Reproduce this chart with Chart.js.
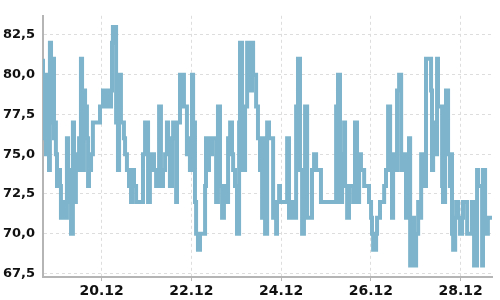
<!DOCTYPE html>
<html>
<head>
<meta charset="utf-8">
<script src="https://cdn.jsdelivr.net/npm/chart.js@4/dist/chart.umd.min.js"></script>
<style>
  body { margin: 0; background: #fff; }
  #wrap { width: 500px; height: 300px; }
</style>
</head>
<body>
<div id="wrap"><canvas id="tempChart" width="500" height="300"></canvas></div>
<script>
// hours since 18.12 00:00 where the reading changes
const hours = [
    16.6, 17.7, 18.2, 19.3, 19.8, 20.3, 20.9, 21.9, 22.5, 23.0, 23.5, 24.1, 24.6, 25.7, 26.2, 26.8, 27.3, 29.4, 30.0, 30.5,
    31.6, 32.6, 33.2, 34.2, 34.8, 35.9, 36.9, 37.5, 38.5, 39.1, 39.6, 40.1, 40.7, 41.2, 41.7, 42.3, 43.3, 44.4, 47.1, 48.7,
    49.8, 50.8, 51.9, 53.0, 53.5, 54.0, 55.7, 56.7, 57.3, 58.3, 59.9, 60.5, 61.5, 62.6, 63.7, 64.2, 65.3, 66.4, 70.1, 71.2,
    72.8, 73.8, 74.9, 76.0, 77.1, 78.7, 79.7, 80.8, 81.9, 82.9, 83.5, 84.5, 85.6, 86.2, 87.8, 88.3, 89.9, 92.0, 93.6, 94.7,
    95.2, 96.3, 96.9, 97.9, 98.5, 99.5, 100.6, 103.3, 103.8, 104.3, 105.4, 106.0, 107.0, 109.2, 110.2, 111.3, 112.4, 113.4, 114.5, 115.6,
    116.7, 117.7, 118.3, 119.3, 120.4, 121.5, 122.0, 123.1, 124.7, 125.8, 126.8, 128.4, 129.0, 130.6, 131.6, 132.7, 133.8, 134.3, 135.4, 136.5,
    137.5, 139.7, 140.7, 141.3, 141.8, 142.9, 143.4, 147.2, 148.2, 149.3, 150.9, 152.0, 153.0, 154.1, 155.2, 156.2, 156.8, 157.9, 160.5, 161.6,
    162.7, 165.3, 173.4, 174.4, 175.5, 176.6, 177.1, 177.7, 178.2, 179.3, 180.3, 182.5, 183.5, 184.6, 185.7, 186.7, 188.4, 191.0, 192.1, 192.6,
    193.2, 194.8, 195.3, 196.9, 199.1, 200.1, 201.2, 202.3, 203.3, 203.9, 204.9, 206.0, 207.1, 208.2, 209.8, 210.8, 211.4, 212.4, 213.0, 214.0,
    215.1, 216.2, 217.3, 218.3, 218.9, 219.4, 220.5, 221.5, 222.6, 224.2, 224.7, 225.3, 226.3, 227.4, 227.9, 230.1, 230.6, 231.7, 232.2, 233.3,
    234.3, 234.9, 235.4, 236.0, 237.1, 237.6, 238.7, 239.7, 240.8, 241.3, 243.5, 246.1, 247.2, 248.8, 249.4, 251.5, 252.0, 253.1, 254.1, 254.6,
    255.7, 256.8
];
const values = [
    81, 76, 80, 75, 78, 74, 82, 77, 81, 76, 77, 75, 73, 74, 73, 71, 72, 71, 76, 74,
    72, 70, 77, 72, 75, 74, 76, 81, 74, 79, 77, 78, 76, 73, 75, 74, 75, 77, 77, 78,
    79, 78, 79, 78, 79, 82, 83, 77, 74, 80, 77, 76, 75, 74, 73, 72, 74, 73, 72, 75,
    77, 72, 74, 75, 74, 73, 78, 73, 74, 75, 77, 76, 73, 76, 77, 72, 77, 80, 78, 75,
    76, 74, 80, 77, 72, 70, 69, 70, 73, 76, 74, 76, 75, 76, 72, 78, 73, 71, 73, 72,
    76, 77, 75, 74, 73, 70, 77, 82, 74, 78, 82, 79, 82, 80, 78, 76, 74, 71, 76, 70,
    77, 76, 71, 72, 70, 72, 73, 72, 76, 71, 72, 71, 78, 81, 74, 70, 73, 78, 71, 74,
    75, 74, 72, 78, 80, 72, 75, 73, 77, 73, 71, 73, 72, 77, 72, 75, 74, 73, 72, 71,
    70, 69, 70, 71, 72, 73, 74, 78, 74, 71, 75, 74, 79, 80, 74, 75, 71, 72, 76, 68,
    71, 68, 70, 72, 71, 75, 74, 73, 81, 81, 79, 74, 77, 75, 81, 78, 73, 72, 77, 79,
    75, 73, 75, 70, 69, 71, 72, 71, 70, 71, 72, 70, 72, 68, 74, 73, 68, 74, 71, 70,
    71, 71
];

const yTicks = [67.5, 70, 72.5, 75, 77.5, 80, 82.5];
const xTickHours = [48, 96, 144, 192, 240];
const xTickLabels = ['20.12', '22.12', '24.12', '26.12', '28.12'];

const lineColor = 'rgb(127, 181, 204)';
const gridColor = '#dddddd';
const axisColor = '#b5b5b5';

const points = hours.map((h, i) => ({ x: h, y: values[i] }));

const ctx = document.getElementById('tempChart').getContext('2d');
new Chart(ctx, {
    type: 'line',
    data: {
        datasets: [{
            data: points,
            borderColor: lineColor,
            backgroundColor: 'transparent',
            borderWidth: 4,
            stepped: 'after',
            pointRadius: 0,
            fill: false
        }]
    },
    options: {
        responsive: false,
        animation: false,
        layout: { padding: { top: 5, right: 8, left: 0, bottom: 0 } },
        plugins: {
            legend: { display: false },
            tooltip: { enabled: false }
        },
        scales: {
            x: {
                type: 'linear',
                min: 16.6,
                max: 256.8,
                afterFit: (scale) => { scale.height = 23; },
                afterBuildTicks: (scale) => {
                    scale.ticks = xTickHours.map(v => ({ value: v }));
                },
                ticks: {
                    autoSkip: false,
                    maxRotation: 0,
                    padding: 2,
                    color: '#111',
                    font: { family: 'DejaVu Sans', size: 14, weight: 'bold' },
                    callback: (value) => xTickLabels[xTickHours.indexOf(value)]
                },
                grid: {
                    color: gridColor,
                    tickColor: axisColor,
                    tickLength: 4,
                    tickBorderDash: []
                },
                border: { display: true, color: axisColor, width: 2, dash: [3, 3] }
            },
            y: {
                min: 67.28,
                max: 83.7,
                afterFit: (scale) => { scale.width = 43; },
                afterBuildTicks: (scale) => {
                    scale.ticks = yTicks.map(v => ({ value: v }));
                },
                ticks: {
                    padding: 8,
                    color: '#111',
                    font: { family: 'DejaVu Sans', size: 13, weight: 'bold' },
                    callback: (value) => value.toFixed(1).replace('.', ',')
                },
                grid: {
                    color: gridColor,
                    drawTicks: false
                },
                border: { display: true, color: axisColor, width: 2, dash: [3, 3] }
            }
        }
    }
});
</script>
</body>
</html>
